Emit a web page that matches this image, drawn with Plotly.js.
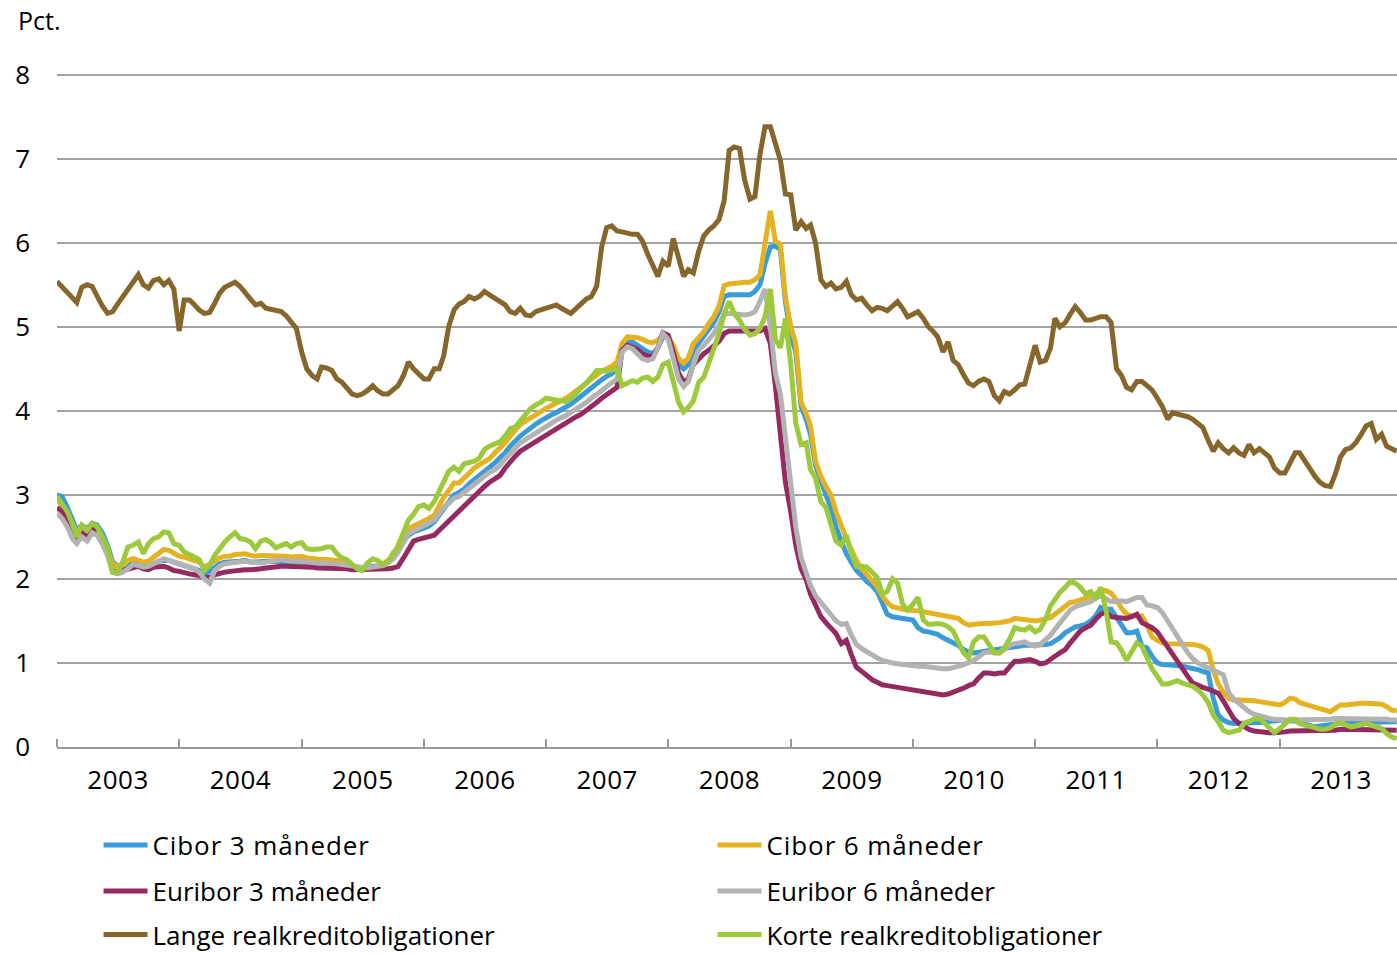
<!DOCTYPE html>
<html>
<head>
<meta charset="utf-8">
<script src="https://cdn.plot.ly/plotly-3.0.1.min.js"></script>
<style>
html,body{margin:0;padding:0;background:#fff;}
#chart{width:1397px;height:954px;}
#chart .legendtext{letter-spacing:0.9px;}
#chart .xtick text{letter-spacing:0.5px;}
</style>
</head>
<body>
<div id="chart"></div>
<script>
// Semi-monthly observation dates (1st and 16th of each month), Jan 2003 - Dec 2013
const dates = [];
for (let y = 2003; y <= 2013; y++) {
  for (let m = 1; m <= 12; m++) {
    const mm = (m < 10 ? '0' : '') + m;
    dates.push(y + '-' + mm + '-01');
    dates.push(y + '-' + mm + '-16');
  }
}

const seriesNames = ['Cibor 3 måneder', 'Cibor 6 måneder', 'Euribor 3 måneder', 'Euribor 6 måneder', 'Lange realkreditobligationer', 'Korte realkreditobligationer'];

const cibor3 = [
3.00,2.98,2.85,2.70,2.58,2.64,2.60,2.66,2.64,2.55,2.40,2.20,2.16,2.15,2.18,2.18,2.17,2.16,2.16,2.18,2.21,2.22,2.22,2.20,
2.18,2.16,2.14,2.12,2.10,2.05,2.10,2.15,2.18,2.20,2.20,2.21,2.21,2.22,2.20,2.20,2.21,2.21,2.21,2.21,2.20,2.20,2.20,2.20,
2.20,2.19,2.19,2.18,2.18,2.18,2.17,2.17,2.16,2.15,2.14,2.13,2.12,2.13,2.15,2.15,2.17,2.20,2.24,2.34,2.45,2.52,2.56,2.58,
2.60,2.63,2.68,2.76,2.85,2.93,3.00,3.03,3.07,3.13,3.18,3.24,3.27,3.32,3.38,3.44,3.50,3.58,3.65,3.70,3.75,3.80,3.84,3.88,
3.92,3.95,3.98,4.01,4.04,4.08,4.13,4.18,4.22,4.27,4.33,4.37,4.41,4.44,4.50,4.76,4.82,4.82,4.78,4.74,4.70,4.68,4.75,4.88,
4.88,4.72,4.55,4.50,4.55,4.72,4.80,4.88,4.97,5.05,5.18,5.36,5.38,5.38,5.38,5.38,5.38,5.42,5.50,5.75,5.95,5.96,5.92,5.30,
4.90,4.70,4.05,3.90,3.72,3.35,3.15,3.00,2.85,2.62,2.45,2.30,2.20,2.10,2.04,1.97,1.92,1.85,1.72,1.58,1.55,1.54,1.53,1.52,
1.51,1.42,1.38,1.37,1.36,1.34,1.30,1.27,1.24,1.21,1.16,1.13,1.12,1.13,1.14,1.15,1.16,1.17,1.18,1.19,1.20,1.21,1.21,1.21,
1.21,1.21,1.22,1.23,1.26,1.30,1.36,1.40,1.43,1.44,1.46,1.50,1.56,1.66,1.64,1.64,1.54,1.47,1.36,1.36,1.38,1.20,1.18,1.08,
1.00,0.98,0.98,0.97,0.97,0.96,0.95,0.94,0.92,0.90,0.88,0.58,0.38,0.32,0.29,0.28,0.28,0.28,0.28,0.28,0.29,0.30,0.30,0.31,
0.32,0.32,0.32,0.31,0.29,0.27,0.25,0.24,0.25,0.26,0.27,0.28,0.28,0.29,0.29,0.29,0.30,0.30,0.30,0.30,0.30,0.30,0.30,0.30
];

const cibor6 = [
2.94,2.88,2.78,2.66,2.55,2.62,2.58,2.64,2.62,2.50,2.35,2.18,2.15,2.16,2.22,2.24,2.22,2.20,2.21,2.25,2.31,2.35,2.34,2.30,
2.27,2.26,2.24,2.23,2.20,2.14,2.18,2.23,2.25,2.27,2.27,2.29,2.29,2.30,2.28,2.27,2.28,2.28,2.27,2.27,2.27,2.27,2.26,2.27,
2.27,2.25,2.24,2.23,2.23,2.23,2.23,2.22,2.20,2.16,2.14,2.12,2.11,2.12,2.14,2.16,2.18,2.22,2.27,2.40,2.55,2.60,2.63,2.66,
2.68,2.72,2.76,2.88,2.97,3.05,3.14,3.14,3.20,3.27,3.32,3.36,3.40,3.43,3.50,3.55,3.62,3.70,3.78,3.84,3.88,3.92,3.96,4.00,
4.03,4.06,4.09,4.12,4.15,4.19,4.24,4.28,4.33,4.38,4.43,4.47,4.50,4.53,4.58,4.80,4.88,4.88,4.87,4.85,4.82,4.81,4.84,4.90,
4.88,4.78,4.62,4.57,4.63,4.80,4.88,4.94,5.04,5.12,5.25,5.49,5.51,5.52,5.52,5.53,5.53,5.56,5.62,6.00,6.38,6.02,5.98,5.35,
5.00,4.80,4.10,3.97,3.82,3.40,3.22,3.10,3.00,2.80,2.62,2.48,2.35,2.22,2.12,2.05,1.99,1.91,1.80,1.72,1.67,1.65,1.64,1.63,
1.63,1.62,1.61,1.60,1.59,1.57,1.56,1.55,1.54,1.53,1.48,1.45,1.46,1.47,1.47,1.47,1.47,1.48,1.49,1.50,1.53,1.52,1.51,1.51,
1.50,1.51,1.52,1.54,1.58,1.62,1.68,1.72,1.73,1.75,1.76,1.79,1.82,1.87,1.86,1.83,1.75,1.65,1.58,1.56,1.56,1.56,1.45,1.31,
1.27,1.24,1.23,1.23,1.23,1.23,1.22,1.22,1.21,1.19,1.15,0.92,0.75,0.65,0.58,0.56,0.56,0.56,0.55,0.55,0.54,0.53,0.52,0.50,
0.50,0.53,0.58,0.57,0.53,0.51,0.49,0.48,0.46,0.43,0.42,0.46,0.50,0.50,0.51,0.52,0.52,0.52,0.52,0.52,0.51,0.48,0.44,0.43
];

const euribor3 = [
2.85,2.80,2.68,2.55,2.48,2.55,2.50,2.60,2.57,2.45,2.30,2.10,2.08,2.10,2.12,2.13,2.15,2.12,2.11,2.14,2.15,2.15,2.13,2.10,
2.09,2.07,2.06,2.05,2.04,2.01,2.02,2.05,2.07,2.08,2.09,2.10,2.10,2.11,2.11,2.11,2.12,2.13,2.14,2.15,2.15,2.15,2.15,2.15,
2.15,2.14,2.14,2.13,2.13,2.13,2.13,2.13,2.12,2.12,2.11,2.11,2.11,2.11,2.11,2.11,2.11,2.12,2.13,2.15,2.25,2.36,2.45,2.47,
2.49,2.50,2.52,2.58,2.63,2.70,2.76,2.82,2.88,2.93,3.00,3.05,3.10,3.15,3.19,3.23,3.32,3.40,3.46,3.52,3.56,3.60,3.64,3.68,
3.72,3.75,3.79,3.82,3.85,3.89,3.93,3.96,4.00,4.05,4.10,4.15,4.19,4.22,4.28,4.72,4.78,4.76,4.73,4.68,4.65,4.65,4.75,4.93,
4.90,4.70,4.45,4.34,4.38,4.55,4.62,4.68,4.72,4.78,4.83,4.92,4.95,4.95,4.95,4.95,4.95,4.95,4.95,4.98,4.80,4.30,3.75,3.15,
2.80,2.40,2.12,1.99,1.82,1.68,1.55,1.48,1.42,1.35,1.23,1.27,1.10,0.95,0.90,0.85,0.80,0.77,0.74,0.73,0.72,0.71,0.70,0.69,
0.67,0.66,0.66,0.65,0.64,0.63,0.62,0.63,0.65,0.68,0.70,0.73,0.75,0.82,0.88,0.88,0.87,0.88,0.88,0.95,1.02,1.02,1.03,1.04,
1.02,0.99,1.00,1.05,1.08,1.12,1.16,1.24,1.32,1.38,1.42,1.45,1.52,1.58,1.61,1.55,1.54,1.53,1.53,1.55,1.58,1.48,1.45,1.42,
1.37,1.28,1.18,1.10,1.02,0.93,0.84,0.76,0.73,0.71,0.69,0.67,0.64,0.55,0.44,0.34,0.28,0.24,0.21,0.19,0.18,0.17,0.17,0.17,
0.17,0.18,0.19,0.19,0.20,0.20,0.20,0.20,0.20,0.20,0.20,0.20,0.21,0.21,0.21,0.21,0.21,0.21,0.21,0.21,0.21,0.21,0.21,0.20
];

const euribor6 = [
2.78,2.72,2.62,2.48,2.42,2.50,2.45,2.55,2.52,2.42,2.28,2.08,2.06,2.08,2.12,2.17,2.16,2.14,2.15,2.18,2.22,2.24,2.22,2.20,
2.19,2.17,2.15,2.12,2.08,2.00,1.95,2.10,2.15,2.18,2.19,2.20,2.21,2.21,2.20,2.19,2.19,2.20,2.21,2.22,2.23,2.22,2.21,2.21,
2.21,2.20,2.20,2.19,2.19,2.19,2.19,2.18,2.17,2.16,2.15,2.14,2.13,2.13,2.14,2.15,2.16,2.19,2.24,2.32,2.45,2.54,2.57,2.60,
2.63,2.66,2.70,2.78,2.85,2.90,2.96,2.98,3.03,3.08,3.12,3.18,3.23,3.27,3.30,3.35,3.43,3.50,3.56,3.62,3.66,3.70,3.74,3.78,
3.82,3.85,3.89,3.92,3.94,3.98,4.02,4.05,4.10,4.15,4.19,4.24,4.29,4.33,4.38,4.70,4.76,4.74,4.68,4.62,4.60,4.62,4.75,4.92,
4.85,4.60,4.38,4.29,4.35,4.55,4.72,4.78,4.85,4.92,5.02,5.15,5.16,5.15,5.14,5.14,5.15,5.18,5.30,5.45,5.00,4.45,4.20,3.65,
3.05,2.62,2.25,2.05,1.92,1.80,1.72,1.64,1.58,1.50,1.46,1.47,1.33,1.22,1.17,1.13,1.10,1.06,1.03,1.01,1.00,0.99,0.98,0.97,
0.97,0.96,0.96,0.95,0.94,0.94,0.93,0.93,0.94,0.96,0.98,1.00,1.03,1.07,1.12,1.13,1.12,1.12,1.16,1.21,1.23,1.24,1.25,1.22,
1.20,1.22,1.28,1.33,1.40,1.48,1.56,1.63,1.67,1.69,1.71,1.73,1.77,1.80,1.76,1.73,1.73,1.74,1.73,1.75,1.78,1.78,1.69,1.68,
1.66,1.60,1.50,1.40,1.30,1.20,1.12,1.05,1.00,0.97,0.94,0.92,0.90,0.86,0.65,0.57,0.52,0.47,0.42,0.39,0.37,0.36,0.34,0.33,
0.32,0.32,0.32,0.32,0.32,0.32,0.32,0.32,0.33,0.33,0.33,0.34,0.34,0.34,0.34,0.34,0.34,0.34,0.34,0.33,0.33,0.33,0.32,0.32
];

const lange = [
5.54,5.48,5.42,5.36,5.29,5.47,5.50,5.48,5.36,5.25,5.16,5.18,5.27,5.35,5.46,5.54,5.62,5.50,5.46,5.55,5.57,5.50,5.55,5.45,
4.95,5.32,5.32,5.26,5.20,5.16,5.17,5.28,5.40,5.47,5.50,5.53,5.48,5.40,5.33,5.26,5.28,5.22,5.21,5.20,5.18,5.13,5.06,4.98,
4.70,4.50,4.42,4.38,4.52,4.51,4.48,4.38,4.34,4.27,4.20,4.18,4.20,4.24,4.30,4.24,4.20,4.20,4.25,4.30,4.42,4.58,4.50,4.45,
4.38,4.38,4.50,4.50,4.65,5.00,5.20,5.27,5.30,5.36,5.33,5.36,5.42,5.38,5.34,5.31,5.26,5.18,5.16,5.22,5.14,5.13,5.18,5.20,
5.22,5.24,5.26,5.22,5.19,5.16,5.22,5.28,5.33,5.36,5.48,5.95,6.18,6.20,6.14,6.13,6.11,6.10,6.10,6.02,5.86,5.72,5.60,5.78,
5.72,6.05,5.82,5.60,5.68,5.64,5.90,6.08,6.15,6.20,6.28,6.50,7.10,7.14,7.12,6.75,6.52,6.55,7.05,7.38,7.38,7.20,6.98,6.58,
6.57,6.15,6.25,6.17,6.21,6.00,5.56,5.48,5.52,5.45,5.47,5.54,5.38,5.32,5.34,5.26,5.19,5.23,5.22,5.19,5.25,5.30,5.22,5.12,
5.15,5.18,5.10,5.00,4.95,4.88,4.70,4.82,4.60,4.55,4.43,4.33,4.30,4.35,4.38,4.35,4.18,4.12,4.23,4.20,4.25,4.31,4.32,4.55,
4.78,4.58,4.60,4.75,5.10,5.00,5.05,5.15,5.24,5.17,5.08,5.08,5.10,5.12,5.12,5.05,4.50,4.42,4.28,4.25,4.35,4.35,4.30,4.25,
4.15,4.05,3.90,3.98,3.96,3.95,3.93,3.90,3.85,3.80,3.65,3.52,3.62,3.55,3.50,3.56,3.50,3.47,3.60,3.50,3.55,3.50,3.45,3.32,
3.26,3.26,3.40,3.50,3.50,3.40,3.30,3.22,3.15,3.11,3.10,3.25,3.45,3.54,3.56,3.62,3.72,3.82,3.85,3.66,3.72,3.58,3.55,3.52
];

const korte = [
2.98,2.90,2.80,2.65,2.50,2.64,2.58,2.66,2.62,2.50,2.38,2.08,2.08,2.20,2.38,2.40,2.44,2.30,2.42,2.48,2.50,2.56,2.55,2.42,
2.40,2.32,2.28,2.26,2.23,2.10,2.16,2.28,2.36,2.44,2.50,2.55,2.48,2.47,2.44,2.36,2.45,2.47,2.43,2.37,2.40,2.42,2.38,2.42,
2.43,2.36,2.35,2.35,2.36,2.38,2.38,2.30,2.25,2.23,2.18,2.12,2.10,2.19,2.24,2.22,2.17,2.20,2.31,2.37,2.55,2.70,2.77,2.86,
2.88,2.84,2.92,3.05,3.18,3.28,3.33,3.28,3.37,3.38,3.40,3.44,3.54,3.58,3.60,3.63,3.70,3.79,3.81,3.88,3.96,4.03,4.07,4.10,
4.15,4.14,4.13,4.12,4.11,4.15,4.21,4.27,4.33,4.40,4.48,4.48,4.47,4.49,4.50,4.30,4.33,4.36,4.34,4.39,4.40,4.35,4.40,4.55,
4.58,4.32,4.10,3.99,4.04,4.12,4.34,4.40,4.58,4.75,4.92,5.16,5.30,5.16,5.08,4.97,4.90,4.92,4.98,5.12,5.45,4.85,4.75,5.10,
4.55,3.85,3.60,3.62,3.30,3.20,2.92,2.85,2.65,2.45,2.40,2.52,2.30,2.15,2.15,2.14,2.08,2.02,1.82,1.85,2.00,1.95,1.70,1.63,
1.70,1.78,1.51,1.46,1.46,1.47,1.46,1.43,1.38,1.24,1.12,1.06,1.25,1.31,1.31,1.22,1.12,1.12,1.18,1.28,1.42,1.40,1.39,1.43,
1.37,1.40,1.52,1.68,1.75,1.84,1.90,1.97,1.95,1.90,1.82,1.85,1.78,1.90,1.62,1.25,1.24,1.15,1.03,1.12,1.24,1.20,1.07,0.93,
0.84,0.75,0.75,0.77,0.79,0.76,0.74,0.72,0.68,0.62,0.53,0.38,0.30,0.20,0.17,0.18,0.20,0.28,0.31,0.33,0.34,0.28,0.22,0.17,
0.22,0.27,0.33,0.33,0.28,0.26,0.25,0.23,0.21,0.21,0.23,0.27,0.29,0.26,0.24,0.25,0.27,0.28,0.26,0.24,0.22,0.16,0.12,0.10
];

const yTicks = [0, 1, 2, 3, 4, 5, 6, 7, 8];
const colors = ['#3a9bd9', '#e5b221', '#952a60', '#b3b3b3', '#86662a', '#9dca3c'];
const values = [cibor3, cibor6, euribor3, euribor6, lange, korte];
const legendIds = ['legend', 'legend', 'legend2', 'legend2', 'legend3', 'legend3'];

const FONT = 'Open Sans, Noto Sans, DejaVu Sans, sans-serif';

const traces = values.map((v, k) => ({
  type: 'scatter',
  mode: 'lines',
  x: dates,
  y: v,
  name: seriesNames[k],
  legend: legendIds[k],
  line: {color: colors[k], width: 5, shape: 'linear'},
  hoverinfo: 'x+y+name'
}));

function legendAt(py, anchor) {
  return {
    orientation: 'h',
    x: 0.031, xanchor: 'left',
    y: (747 - py) / 674, yanchor: anchor,
    font: {family: FONT, size: 26, color: '#000'},
    entrywidth: 555, entrywidthmode: 'pixels',
    itemwidth: 44,
    bgcolor: 'rgba(0,0,0,0)',
    borderwidth: 0,
    traceorder: 'normal'
  };
}

const layout = {
  width: 1397, height: 954,
  margin: {l: 57, r: 0, t: 73, b: 207, pad: 0, autoexpand: false},
  paper_bgcolor: '#fff', plot_bgcolor: '#fff',
  font: {family: FONT, size: 26, color: '#000'},
  showlegend: true,
  xaxis: {
    type: 'date',
    range: ['2003-01-01', '2013-12-17'],
    tick0: '2003-01-01', dtick: 'M12',
    tickformat: '%Y',
    ticklabelmode: 'period',
    ticks: 'inside', ticklen: 8, tickwidth: 1.5, tickcolor: '#9a9a9a',
    showline: true, linecolor: '#9a9a9a', linewidth: 1.5,
    showgrid: false, zeroline: false,
    ticklabelstandoff: 9,
    tickfont: {family: FONT, size: 26, color: '#000'},
    automargin: false,
    fixedrange: true
  },
  yaxis: {
    range: [0, 8.02],
    tickvals: yTicks,
    ticktext: yTicks.map(String),
    ticks: '', showline: false,
    showgrid: true, gridcolor: '#a3a3a3', gridwidth: 1.5,
    zeroline: false,
    ticklabelstandoff: 26,
    tickfont: {family: FONT, size: 26, color: '#000'},
    automargin: false,
    fixedrange: true
  },
  legend: legendAt(845, 'middle'),
  legend2: legendAt(891, 'middle'),
  legend3: legendAt(958, 'bottom'),
  annotations: [{
    text: 'Pct.', xref: 'paper', yref: 'paper',
    x: 0, y: 1, xanchor: 'left', yanchor: 'middle',
    xshift: -41, yshift: 53,
    showarrow: false,
    font: {family: FONT, size: 25, color: '#000'}
  }]
};

Plotly.newPlot('chart', traces, layout, {displayModeBar: false, responsive: false});
</script>
</body>
</html>
